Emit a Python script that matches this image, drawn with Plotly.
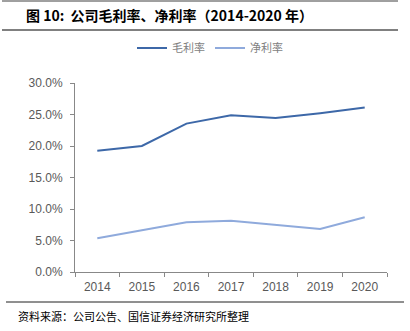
import plotly.graph_objects as go

years = ["2014", "2015", "2016", "2017", "2018", "2019", "2020"]
gross_margin = [0.1925, 0.200, 0.2355, 0.2487, 0.2444, 0.252, 0.261]
net_margin = [0.0535, 0.066, 0.079, 0.0815, 0.0746, 0.0683, 0.0868]
y_ticks = [0.0, 0.05, 0.10, 0.15, 0.20, 0.25, 0.30]

W, H = 410, 331
L, R, T, B = 75, 23, 83, 59
PW, PH = W - L - R, H - T - B


def px(x):
    return (x - L) / PW


def py(y):
    return (H - B - y) / PH


fig = go.Figure()
fig.add_trace(go.Scatter(x=years, y=gross_margin, mode="lines", name="毛利率",
                         line=dict(color="#3D68A8", width=2)))
fig.add_trace(go.Scatter(x=years, y=net_margin, mode="lines", name="净利率",
                         line=dict(color="#8FAADC", width=2)))

axis_font = dict(family="Liberation Sans, Arial", size=12, color="#595959")
fig.update_layout(
    width=W, height=H,
    margin=dict(l=L, r=R, t=T, b=B),
    paper_bgcolor="white", plot_bgcolor="white",
    showlegend=True,
    legend=dict(orientation="h", x=px(210), xanchor="center", y=py(48), yanchor="middle",
                font=dict(family="Noto Sans CJK SC", size=11, color="#7f7f7f"),
                itemwidth=30, tracegroupgap=0),
    xaxis=dict(type="category", range=[-0.5, 6.5], tickson="boundaries", ticks="outside",
               ticklen=4, tickcolor="#888888", showline=True, linecolor="#888888",
               linewidth=1, showgrid=False, tickfont=axis_font, zeroline=False,
               ticklabelstandoff=4),
    yaxis=dict(range=[0, 0.30], tickvals=y_ticks, tickformat=".1%", ticks="outside",
               ticklen=4, tickcolor="#888888", showline=True, linecolor="#888888",
               linewidth=1, showgrid=False, tickfont=axis_font, zeroline=False,
               ticklabelstandoff=5),
)

shapes = [
    dict(type="line", xref="paper", yref="paper", x0=px(2), x1=px(398), y0=py(1), y1=py(1),
         line=dict(color="#404040", width=1)),
    dict(type="line", xref="paper", yref="paper", x0=px(2), x1=px(398), y0=py(30), y1=py(30),
         line=dict(color="#808080", width=2)),
    dict(type="line", xref="paper", yref="paper", x0=px(6), x1=px(404), y0=py(302), y1=py(302),
         line=dict(color="#202020", width=1)),
]
fig.update_layout(shapes=shapes)

fig.add_annotation(xref="paper", yref="paper", x=px(24), y=py(15), xanchor="left", yanchor="middle",
                   text="<b>图 10:  公司毛利率、净利率（2014-2020 年）</b>", showarrow=False,
                   font=dict(family="Noto Sans CJK SC", size=14, color="#000000"))
fig.add_annotation(xref="paper", yref="paper", x=px(16), y=py(316), xanchor="left", yanchor="middle",
                   text="资料来源：公司公告、国信证券经济研究所整理", showarrow=False,
                   font=dict(family="Noto Sans CJK SC", size=11, color="#000000"))

fig.write_html("out.html")
